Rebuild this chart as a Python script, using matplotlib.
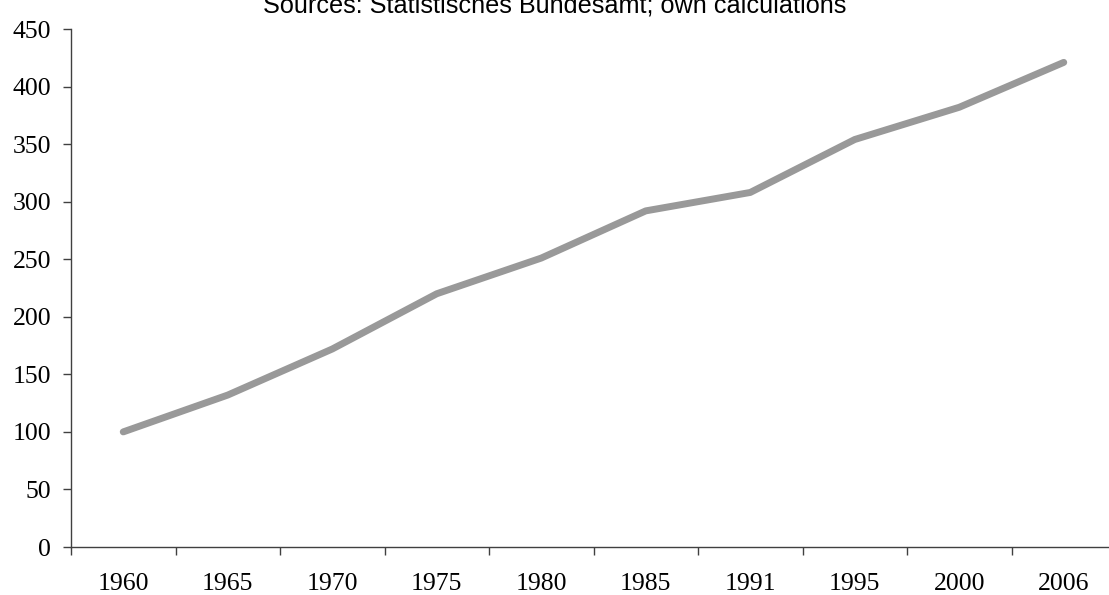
import matplotlib
matplotlib.use("Agg")
import matplotlib.pyplot as plt
import numpy as np

# Index values by year
years = ["1960", "1965", "1970", "1975", "1980", "1985", "1991", "1995", "2000", "2006"]
index_values = [100, 132, 172, 220, 251, 292, 308, 354, 382, 421]
y_ticks = [0, 50, 100, 150, 200, 250, 300, 350, 400, 450]

W, H = 1109, 595
fig = plt.figure(figsize=(W / 100, H / 100), dpi=100)
# axes span in pixels: left 71, right 1116 (cropped by the image), bottom 547, top 29
ax = fig.add_axes([71 / W, (H - 547) / H, (1116 - 71) / W, (547 - 29) / H])

x = np.arange(len(years))
ax.plot(x, index_values, color="#999999", linewidth=5, solid_capstyle="round", solid_joinstyle="round",
        clip_on=False)

ax.set_xlim(-0.5, len(years) - 0.5)
ax.set_ylim(0, 450)

serif = ["Liberation Serif", "DejaVu Serif"]
ax.set_yticks(y_ticks)
ax.set_yticklabels([str(v) for v in y_ticks], fontfamily=serif, fontsize=18.5)
ax.set_xticks(x)
ax.set_xticklabels(years, fontfamily=serif, fontsize=18.5)
ax.tick_params(axis="x", which="major", length=0, pad=19)
# category boundaries get the tick marks, labels sit in between
ax.set_xticks(np.arange(-0.5, len(years)), minor=True)
ax.tick_params(axis="x", which="minor", length=5.8, width=1, color="#404040", direction="out")
ax.tick_params(axis="y", length=5.8, width=1, color="#404040", direction="out", pad=8.6)

for side in ["top", "right"]:
    ax.spines[side].set_visible(False)
for side in ["left", "bottom"]:
    ax.spines[side].set_color("#404040")
    ax.spines[side].set_linewidth(1)

# title is cropped at the top edge, as in the source image
fig.text(555 / W, 1 - 13 / H, "Sources: Statistisches Bundesamt; own calculations",
         ha="center", va="baseline", fontsize=18.2, fontfamily=["Liberation Sans", "DejaVu Sans"])

fig.savefig("out.png", dpi=100)
